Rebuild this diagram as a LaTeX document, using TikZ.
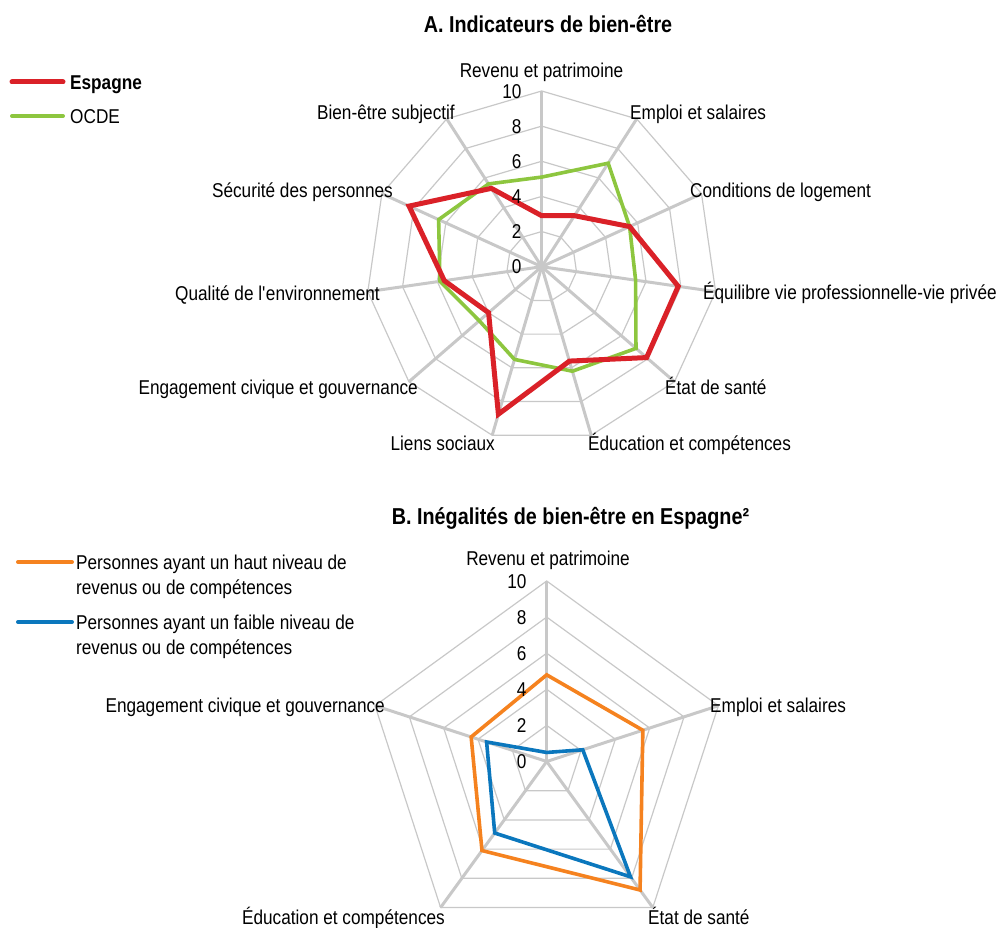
\documentclass[tikz,border=0pt]{standalone}
\usepackage{fontspec}
\setmainfont{Liberation Sans}[FakeStretch=0.86]
\usepackage{xcolor}
\definecolor{espagne-red}{HTML}{DA2128}
\definecolor{ocde-green}{HTML}{8DC63F}
\definecolor{haut-orange}{HTML}{F5821F}
\definecolor{faible-blue}{HTML}{0B77BD}
\definecolor{grid-gray}{HTML}{C8C8C8}

\begin{document}
\begin{tikzpicture}[x=1pt, y=1pt,
        every node/.style={font=\fontsize{20}{25}\selectfont, inner sep=0pt},
        paneltitle/.style={font=\bfseries\fontsize{23}{27}\selectfont, anchor=base},
        ring/.style={draw=grid-gray, line width=1.2pt},
        spoke/.style={draw=grid-gray, line width=3pt},
        series/.style={line width=3.6pt, line join=miter},
        legline/.style={line width=4pt, line cap=round}]
  \useasboundingbox (0,0) rectangle (1002,928);

  % A. eleven dimensions
  \node[paneltitle] (titleA) at (548,895.8) {A. Indicateurs de bien-être};
  \begin{scope}[shift={(541.7,661.3)}]
    \coordinate (cA) at (0,0);
    \foreach \r in {1,...,5}
      \draw[ring] (90:35.14*\r) \foreach \k in {1,...,10}{ -- (90-\k*360/11:35.14*\r)} -- cycle;
    \foreach \k in {0,...,10}
      \draw[spoke] (cA) -- (90-\k*360/11:175.7) coordinate (axA\k);
    \foreach \v [count=\k from 0] in {5.1,7.0,5.5,5.4,7.1,6.2,5.5,4.7,5.85,6.45,5.6}
      \coordinate (ocde\k) at (90-\k*360/11:17.57*\v);
    \foreach \v [count=\k from 0] in {2.9,3.45,5.5,7.85,7.9,5.6,8.75,4.0,5.6,8.3,5.3}
      \coordinate (esp\k) at (90-\k*360/11:17.57*\v);
    \draw[series, ocde-green] (ocde0) \foreach \k in {1,...,10}{ -- (ocde\k)} -- cycle;
    \draw[series, espagne-red, line width=5pt] (esp0) \foreach \k in {1,...,10}{ -- (esp\k)} -- cycle;
    \foreach \t [count=\i from 0] in {0,2,...,10}
      \node[anchor=base east] (tickA\t) at (-20,35.14*\i-7.2) {\t};
  \end{scope}
  \node[anchor=base] (revA) at (541.5,850.8) {Revenu et patrimoine};
  \node[anchor=base west] (empA) at (630,808.8) {Emploi et salaires};
  \node[anchor=base west] (logA) at (690,730.8) {Conditions de logement};
  \node[anchor=base west] (equA) at (703,628.8) {Équilibre vie professionnelle-vie privée};
  \node[anchor=base west] (santeA) at (665,533.8) {État de santé};
  \node[anchor=base west] (eduA) at (588,477.8) {Éducation et compétences};
  \node[anchor=base east] (liensA) at (495,477.8) {Liens sociaux};
  \node[anchor=base east] (engA) at (418,533.8) {Engagement civique et gouvernance};
  \node[anchor=base east] (envA) at (380,627.8) {Qualité de l\textquotesingle environnement};
  \node[anchor=base east] (secA) at (393,730.8) {Sécurité des personnes};
  \node[anchor=base east] (bienA) at (455,808.8) {Bien-être subjectif};

  % legend A
  \node[font=\bfseries\fontsize{20}{25}\selectfont, anchor=base west] (legEsp) at (70,838.8) {Espagne};
  \node[anchor=base west] (legOcde) at (70,804.8) {OCDE};
  \coordinate (legEsp-a) at (12,846);
  \coordinate (legOcde-a) at (12,812);
  \draw[legline, espagne-red, line width=5pt] (legEsp-a) -- ([xshift=-7pt]legEsp-a -| legEsp.west);
  \draw[legline, ocde-green] (legOcde-a) -- ([xshift=-7pt]legOcde-a -| legOcde.west);

  % B. inequalities, five dimensions
  \node[paneltitle] (titleB) at (570.5,403.8) {B. Inégalités de bien-être en Espagne²};
  \begin{scope}[shift={(546.7,166.5)}]
    \coordinate (cB) at (0,0);
    \foreach \r in {1,...,5}
      \draw[ring] (90:36.1*\r) \foreach \k in {1,...,4}{ -- (90-\k*72:36.1*\r)} -- cycle;
    \foreach \k in {0,...,4}
      \draw[spoke] (cB) -- (90-\k*72:180.5) coordinate (axB\k);
    \foreach \v [count=\k from 0] in {4.8,5.6,8.8,6.1,4.4}
      \coordinate (haut\k) at (90-\k*72:18.05*\v);
    \foreach \v [count=\k from 0] in {0.5,2.1,7.9,4.9,3.5}
      \coordinate (faible\k) at (90-\k*72:18.05*\v);
    \draw[series, haut-orange] (haut0) \foreach \k in {1,...,4}{ -- (haut\k)} -- cycle;
    \draw[series, faible-blue] (faible0) \foreach \k in {1,...,4}{ -- (faible\k)} -- cycle;
    \foreach \t [count=\i from 0] in {0,2,...,10}
      \node[anchor=base east] (tickB\t) at (-20,36.1*\i-7.2) {\t};
  \end{scope}
  \node[anchor=base] (revB) at (548,362.8) {Revenu et patrimoine};
  \node[anchor=base west] (empB) at (710,215.8) {Emploi et salaires};
  \node[anchor=base west] (santeB) at (648,3.8) {État de santé};
  \node[anchor=base east] (eduB) at (445,3.8) {Éducation et compétences};
  \node[anchor=base east] (engB) at (385,215.8) {Engagement civique et gouvernance};

  % legend B
  \node[anchor=north west, align=left] (legHaut) at (76,373.4) {Personnes ayant un haut niveau de\\revenus ou de compétences};
  \node[anchor=north west, align=left] (legFaible) at (76,313.4) {Personnes ayant un faible niveau de\\revenus ou de compétences};
  \coordinate (legHaut-a) at (18,366);
  \coordinate (legFaible-a) at (18,306);
  \draw[legline, haut-orange] (legHaut-a) -- ([xshift=-4pt]legHaut-a -| legHaut.west);
  \draw[legline, faible-blue] (legFaible-a) -- ([xshift=-4pt]legFaible-a -| legFaible.west);
\end{tikzpicture}
\end{document}
